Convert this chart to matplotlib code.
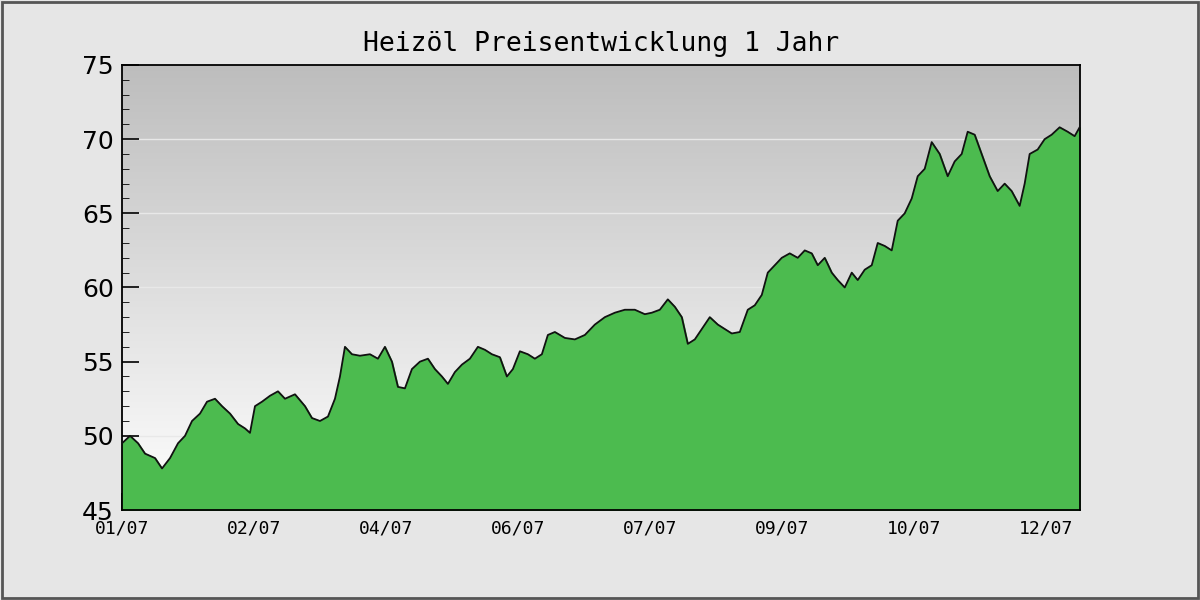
import matplotlib
matplotlib.use("Agg")
import matplotlib.pyplot as plt
import numpy as np
from matplotlib.patches import Rectangle

title = "Heizöl Preisentwicklung 1 Jahr"
tick_labels = ["01/07", "02/07", "04/07", "06/07", "07/07", "09/07", "10/07", "12/07"]
px = [122,130,138,145,155,162,170,178,185,192,200,207,215,222,230,238,245,250,255,262,270,278,285,295,305,312,320,328,335,340,345,352,360,370,378,385,392,398,405,412,420,428,435,442,448,455,462,470,478,485,492,500,507,513,520,528,535,542,548,555,565,575,585,595,605,615,625,635,645,652,660,668,675,682,688,695,702,710,718,725,732,740,748,755,762,768,775,782,790,798,805,812,818,825,832,838,845,852,858,865,872,878,885,892,898,905,912,918,925,932,940,948,955,962,968,975,982,990,998,1005,1012,1020,1025,1030,1038,1045,1052,1060,1068,1075,1080]
prices = [49.5,50,49.5,48.8,48.5,47.8,48.5,49.5,50,51,51.5,52.3,52.5,52,51.5,50.8,50.5,50.2,52,52.3,52.7,53,52.5,52.8,52,51.2,51,51.3,52.5,54,56,55.5,55.4,55.5,55.2,56,55,53.3,53.2,54.5,55,55.2,54.5,54,53.5,54.3,54.8,55.2,56,55.8,55.5,55.3,54,54.5,55.7,55.5,55.2,55.5,56.8,57,56.6,56.5,56.8,57.5,58,58.3,58.5,58.5,58.2,58.3,58.5,59.2,58.7,58,56.2,56.5,57.2,58,57.5,57.2,56.9,57,58.5,58.8,59.5,61,61.5,62,62.3,62,62.5,62.3,61.5,62,61,60.5,60,61,60.5,61.2,61.5,63,62.8,62.5,64.5,65,66,67.5,68,69.8,69,67.5,68.5,69,70.5,70.3,69,67.5,66.5,67,66.5,65.5,67,69,69.3,70,70.3,70.8,70.5,70.2,70.8]
x = (np.array(px) - 122) / 132.0

fig = plt.figure(figsize=(12, 6), dpi=100, facecolor="#e6e6e6")
fig.patches.append(Rectangle((0.002, 0.003), 0.996, 0.994, transform=fig.transFigure,
                             fill=False, edgecolor="#555555", lw=2))
ax = fig.add_axes([0.1017, 0.15, 0.798, 0.7417])
xmax = (1080 - 122) / 132.0
ax.set_xlim(0, xmax)
ax.set_ylim(45, 75)
grad = np.linspace(0, 1, 256).reshape(-1, 1)
ax.imshow(grad, extent=[0, xmax, 45, 75], aspect="auto", cmap=plt.matplotlib.colors.LinearSegmentedColormap.from_list("g", ["#ffffff", "#bdbdbd"]), origin="lower", zorder=0)
for v in [50, 55, 60, 65, 70]:
    ax.axhline(v, color="#e8e8e8", lw=1, zorder=1)
ax.fill_between(x, 45, prices, color="#4cbb4f", zorder=2)
ax.plot(x, prices, color="#111111", lw=1.3, zorder=3)
ax.set_xticks(range(len(tick_labels)))
ax.set_xticklabels(tick_labels, family="DejaVu Sans Mono", fontsize=13)
ax.set_xticks(np.arange(0, xmax, 1/4), minor=True)
ax.set_yticks(range(45, 76, 5))
ax.set_yticklabels([str(v) for v in range(45, 76, 5)], fontsize=18)
ax.set_yticks(range(45, 76), minor=True)
ax.tick_params(axis="both", which="major", direction="in", length=12, width=1.2)
ax.tick_params(axis="both", which="minor", direction="in", length=5)
ax.tick_params(axis="x", pad=7)
ax.tick_params(axis="y", pad=6)
for s in ax.spines.values():
    s.set_linewidth(1.3)
ax.set_title(title, family="DejaVu Sans Mono", fontsize=19, pad=10)
fig.savefig("out.png", dpi=100, facecolor=fig.get_facecolor())
